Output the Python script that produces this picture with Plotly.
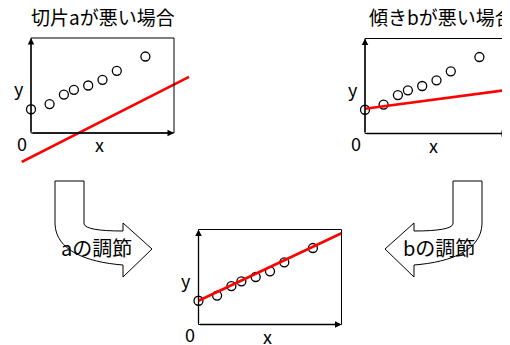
import plotly.graph_objects as go

# ---------------------------------------------------------------
# data (same points in all three panels, x/y in 0..10 box units)
# ---------------------------------------------------------------
pts_x = [0, 1.3, 2.3, 3.0, 4.0, 5.0, 6.0, 8.0]
pts_y = [2.5, 3.05, 4.05, 4.55, 5.0, 5.6, 6.55, 8.05]

# red lines: bad intercept / bad slope / fitted
line_a_x = [-0.65, 11.05]
line_a_y = [-3.05, 5.9]
line_b_x = [0, 10]
line_b_y = [2.6, 4.6]
line_fit_x = [0, 10]
line_fit_y = [2.5, 9.6]

titles = ["切片aが悪い場合", "傾きbが悪い場合"]
arrow_labels = ["aの調節", "bの調節"]

# page is 510x345, the plot div sits 8px in from the body edge
W, H, OFF = 510, 345, 8
FW, FH = W - OFF, H - OFF
FONT = "Noto Sans CJK JP"

fig = go.Figure()
layout = dict(width=FW, height=FH, margin=dict(l=0, r=0, t=0, b=0),
              paper_bgcolor="white", plot_bgcolor="rgba(0,0,0,0)",
              showlegend=False, font=dict(family=FONT, color="black"))
shapes = []
annotations = []


def panel(n, left, top, w=143, h=95, pad=30):
    # place a 0..10 x 0..10 box at page pixel (left, top) with size w x h
    sx, sy = w / 10, h / 10
    x0, x1 = max(OFF, left - pad), min(W, left + w + pad)
    y0, y1 = max(OFF, top - pad), min(H, top + h + pad)
    sfx = "" if n == 1 else str(n)
    layout["xaxis" + sfx] = dict(domain=[(x0 - OFF) / FW, (x1 - OFF) / FW],
                                range=[(x0 - left) / sx, (x1 - left) / sx],
                                visible=False, anchor="y" + sfx)
    layout["yaxis" + sfx] = dict(domain=[1 - (y1 - OFF) / FH, 1 - (y0 - OFF) / FH],
                                range=[(top + h - y1) / sy, (top + h - y0) / sy],
                                visible=False, anchor="x" + sfx)
    xr, yr = "x" + sfx, "y" + sfx
    shapes.append(dict(type="rect", xref=xr, yref=yr, x0=0, y0=0, x1=10, y1=10,
                       line=dict(color="black", width=1)))
    for hx, hy in [(0, 10), (10, 0)]:
        annotations.append(dict(x=hx, y=hy, ax=0, ay=0, xref=xr, yref=yr,
                                axref=xr, ayref=yr, text="", showarrow=True,
                                arrowhead=2, arrowsize=1, arrowwidth=1.3,
                                arrowcolor="black"))
    for txt, tx, ty in [("y", -0.85, 4.7), ("0", -0.6, -1.05), ("x", 4.8, -1.2)]:
        annotations.append(dict(x=tx, y=ty, xref=xr, yref=yr, text=txt,
                                showarrow=False, font=dict(size=18)))
    return xr, yr


def add_panel_traces(xr, yr, lx, ly):
    fig.add_trace(go.Scatter(x=pts_x, y=pts_y, mode="markers", xaxis=xr, yaxis=yr,
                             marker=dict(size=9, color="white",
                                         line=dict(color="black", width=1.3))))
    fig.add_trace(go.Scatter(x=lx, y=ly, mode="lines", xaxis=xr, yaxis=yr,
                             line=dict(color="red", width=2.6)))


xr, yr = panel(1, 31, 38)
add_panel_traces(xr, yr, line_a_x, line_a_y)
xr, yr = panel(2, 365, 38.5)
add_panel_traces(xr, yr, line_b_x, line_b_y)
xr, yr = panel(3, 198.5, 229.5)
add_panel_traces(xr, yr, line_fit_x, line_fit_y)

# overlay axis in page pixel units for the block arrows and free text
layout["xaxis4"] = dict(domain=[0, 1], range=[OFF, W], visible=False, anchor="y4")
layout["yaxis4"] = dict(domain=[0, 1], range=[H, OFF], visible=False, anchor="x4")
fig.add_trace(go.Scatter(x=[], y=[], xaxis="x4", yaxis="y4"))

# left block arrow (down then right); right one is its mirror image
arrow_pts = [("M", 55, 181), ("L", 84, 181), ("L", 84, 224),
             ("Q", 86, 231, 123, 231), ("L", 123, 223), ("L", 152, 249),
             ("L", 123, 277), ("L", 123, 265),
             ("C", 85, 262, 56, 250, 55, 224)]


def arrow_path(mirror=False):
    parts = []
    for cmd, *vals in arrow_pts:
        vals = list(vals)
        if mirror:
            for i in range(0, len(vals), 2):
                vals[i] = 537 - vals[i]
        parts.append(cmd + " " + " ".join(f"{v:g}" for v in vals))
    return " ".join(parts) + " Z"


for m in (False, True):
    shapes.append(dict(type="path", xref="x4", yref="y4", path=arrow_path(m),
                       fillcolor="white", line=dict(color="black", width=1)))

annotations.append(dict(x=102.5, y=16, xref="x4", yref="y4", text=titles[0],
                        showarrow=False, font=dict(size=19)))
annotations.append(dict(x=367, y=16, xref="x4", yref="y4", text=titles[1],
                        xanchor="left", showarrow=False, font=dict(size=19)))
annotations.append(dict(x=96.5, y=247, xref="x4", yref="y4", text=arrow_labels[0],
                        showarrow=False, font=dict(size=20)))
annotations.append(dict(x=439, y=247, xref="x4", yref="y4", text=arrow_labels[1],
                        showarrow=False, font=dict(size=20)))

layout["shapes"] = shapes
layout["annotations"] = annotations
fig.update_layout(**layout)

fig.write_html("out.html")
